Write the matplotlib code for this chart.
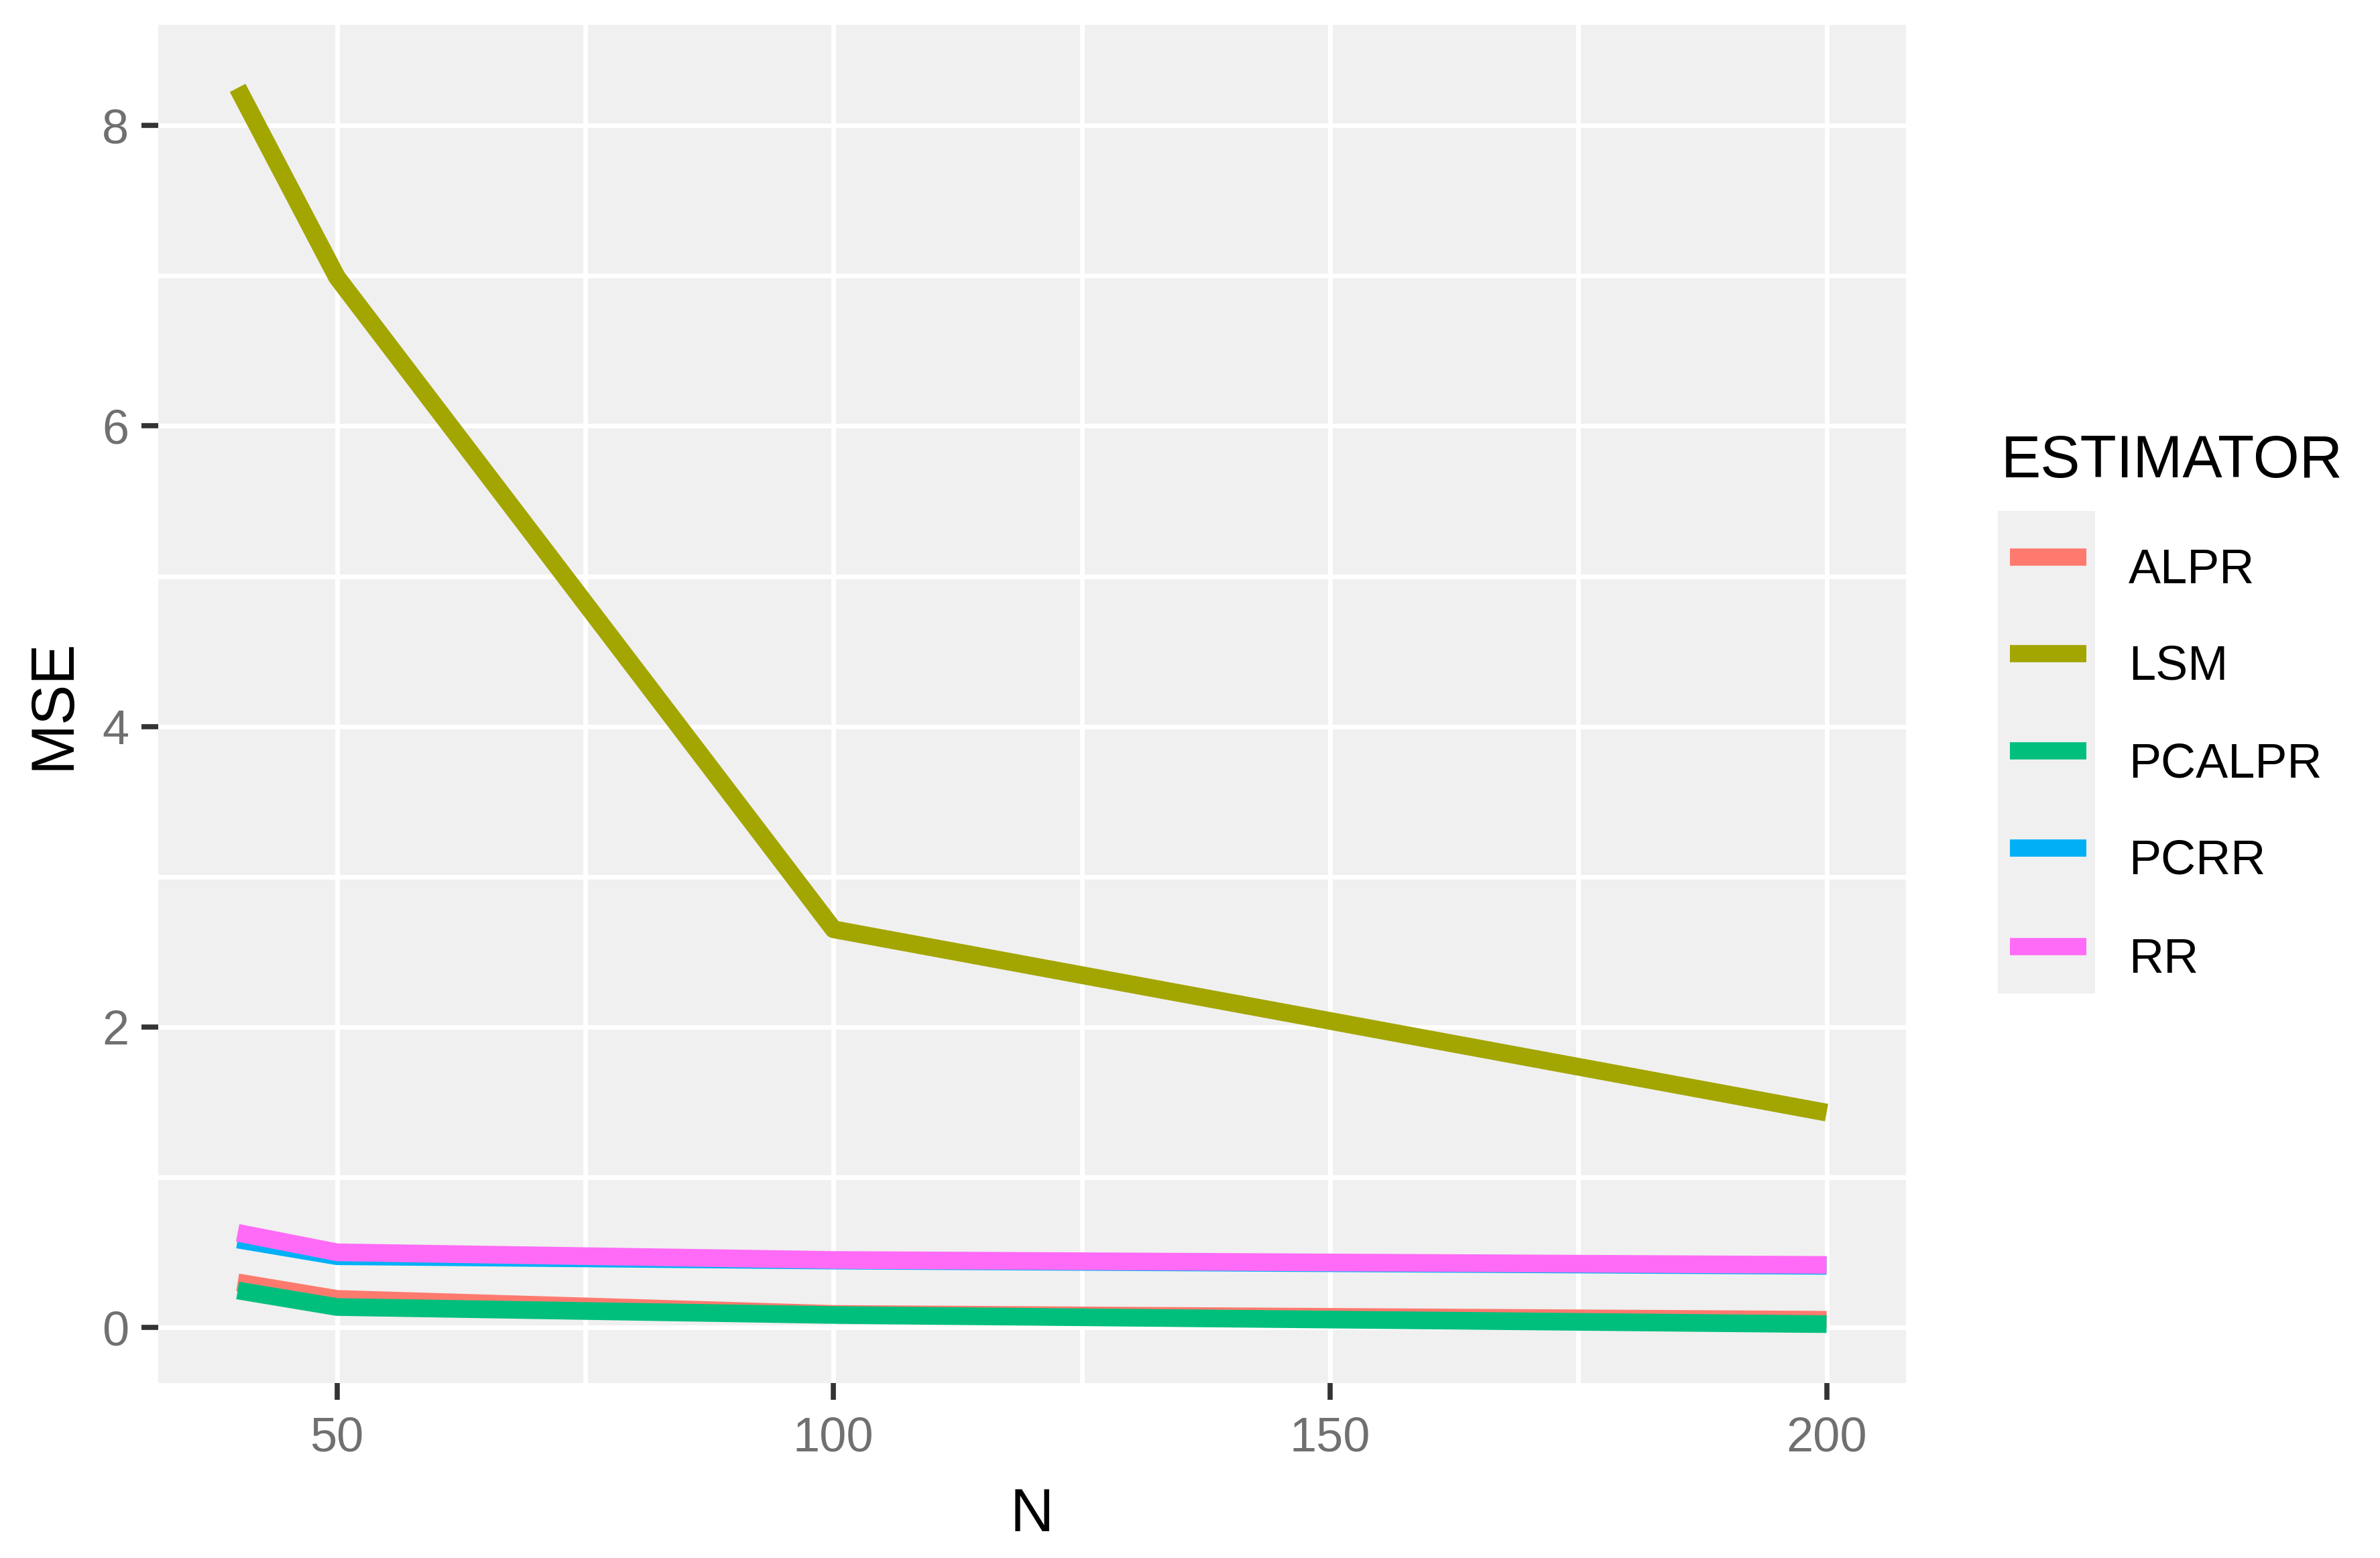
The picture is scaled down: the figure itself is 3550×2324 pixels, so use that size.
import matplotlib
matplotlib.use('Agg')
import matplotlib.pyplot as plt
from matplotlib.lines import Line2D
from matplotlib.patches import Rectangle

# data
sample_sizes = [40, 50, 100, 200]
alpr = [0.30, 0.19, 0.09, 0.051]
lsm = [8.25, 6.99, 2.65, 1.43]
pcalpr = [0.246, 0.136, 0.083, 0.022]
pcrr = [0.585, 0.474, 0.445, 0.41]
rr = [0.63, 0.50, 0.449, 0.416]

estimators = ['ALPR', 'LSM', 'PCALPR', 'PCRR', 'RR']
series = [alpr, lsm, pcalpr, pcrr, rr]
colors = ['#FF7A6E', '#A3A500', '#00BF7D', '#00B0F6', '#FF6BF6']

x_ticks = [50, 100, 150, 200]
x_minor = [75, 125, 175]
y_ticks = [0, 2, 4, 6, 8]
y_minor = [1, 3, 5, 7]

plt.rcParams['font.family'] = ['Liberation Sans', 'DejaVu Sans']

W, H = 3550, 2324
fig = plt.figure(figsize=(7.1, 4.648), dpi=500)

def fx(px):
    return px / W

def fy(py):
    return 1 - py / H

ax = fig.add_axes([fx(236), fy(2063), fx(2843) - fx(236), fy(37) - fy(2063)])
ax.set_facecolor('#F0F0F0')
ax.set_xlim(32, 208)
ax.set_ylim(-0.37, 8.67)

# grid
for v in x_ticks + x_minor:
    ax.axvline(v, color='white', lw=1.0, zorder=1)
for v in y_ticks + y_minor:
    ax.axhline(v, color='white', lw=1.0, zorder=1)

for name, vals, c in zip(estimators, series, colors):
    ax.plot(sample_sizes, vals, color=c, lw=3.8, solid_capstyle='butt',
            solid_joinstyle='round', zorder=3, label=name)

ax.set_xticks(x_ticks)
ax.set_yticks(y_ticks)
ax.tick_params(axis='both', length=3.6, width=1.1, color='#333333',
               labelcolor='#707070', labelsize=10.4)
ax.tick_params(axis='x', pad=3.5)
ax.tick_params(axis='y', pad=2.7)
for s in ax.spines.values():
    s.set_visible(False)

ax.set_xlabel('N', fontsize=13, labelpad=5.6)
ax.set_ylabel('MSE', fontsize=13, labelpad=4.3)

# legend drawn by hand to keep the grey key column
fig.text(fx(2985), fy(712), 'ESTIMATOR', fontsize=12.8, ha='left', va='baseline')
fig.patches.append(Rectangle((fx(2980), fy(1482)), fx(3125) - fx(2980), fy(762) - fy(1482),
                             transform=fig.transFigure, facecolor='#F0F0F0',
                             edgecolor='none', figure=fig))
key_y = [831, 975, 1120, 1265, 1412]
for name, c, ky in zip(estimators, colors, key_y):
    fig.lines.append(Line2D([fx(2998), fx(3112)], [fy(ky), fy(ky)], transform=fig.transFigure,
                            color=c, lw=3.7, solid_capstyle='butt', figure=fig))
    fig.text(fx(3175), fy(ky + 39), name, fontsize=10.4, ha='left', va='baseline')

fig.savefig('out.png', dpi=500, facecolor='white')
